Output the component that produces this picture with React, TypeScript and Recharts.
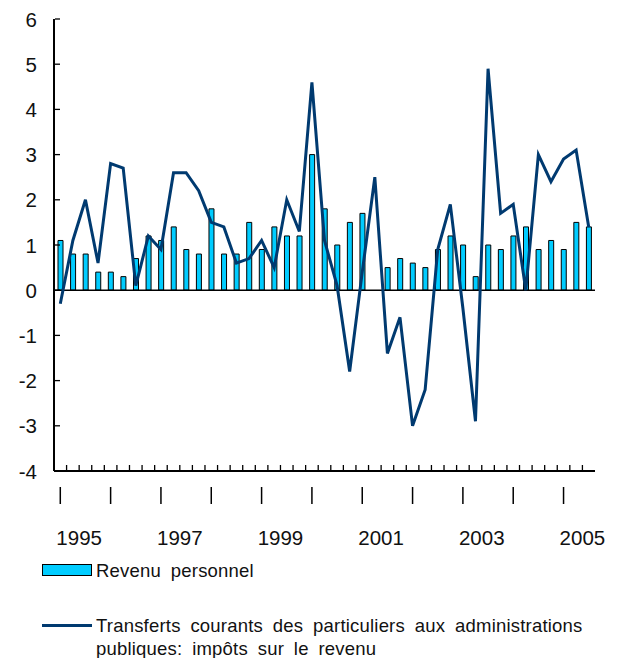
import React from "react";
import {
  ComposedChart,
  Bar,
  Line,
  XAxis,
  YAxis,
  ReferenceLine,
} from "recharts";

// trimestres 1995T1 .. 2005T3
const quarters = [
  "1995T1", "1995T2", "1995T3", "1995T4",
  "1996T1", "1996T2", "1996T3", "1996T4",
  "1997T1", "1997T2", "1997T3", "1997T4",
  "1998T1", "1998T2", "1998T3", "1998T4",
  "1999T1", "1999T2", "1999T3", "1999T4",
  "2000T1", "2000T2", "2000T3", "2000T4",
  "2001T1", "2001T2", "2001T3", "2001T4",
  "2002T1", "2002T2", "2002T3", "2002T4",
  "2003T1", "2003T2", "2003T3", "2003T4",
  "2004T1", "2004T2", "2004T3", "2004T4",
  "2005T1", "2005T2", "2005T3",
];

const revenuPersonnel = [
  1.1, 0.8, 0.8, 0.4, 0.4, 0.3, 0.7, 1.2, 1.1, 1.4, 0.9,
  0.8, 1.8, 0.8, 0.8, 1.5, 0.9, 1.4, 1.2, 1.2, 3.0, 1.8,
  1.0, 1.5, 1.7, 0.0, 0.5, 0.7, 0.6, 0.5, 0.9, 1.2, 1.0,
  0.3, 1.0, 0.9, 1.2, 1.4, 0.9, 1.1, 0.9, 1.5, 1.4,
];

const transferts = [
  -0.3, 1.1, 2.0, 0.6, 2.8, 2.7, 0.1, 1.2, 0.9, 2.6, 2.6,
  2.2, 1.5, 1.4, 0.6, 0.7, 1.1, 0.5, 2.0, 1.3, 4.6, 1.1,
  0.1, -1.8, 0.4, 2.5, -1.4, -0.6, -3.0, -2.2, 0.9, 1.9, -0.4,
  -2.9, 4.9, 1.7, 1.9, 0.0, 3.0, 2.4, 2.9, 3.1, 1.4,
];

const yTicks = [-4, -3, -2, -1, 0, 1, 2, 3, 4, 5, 6];
const yearLabels = ["1995", "1997", "1999", "2001", "2003", "2005"];

const data = quarters.map((q, i) => ({
  q,
  revenu: revenuPersonnel[i],
  transferts: transferts[i],
}));

const FONT = "'Liberation Sans', Arial, sans-serif";
const BAR_COLOR = "#00CCFF";
const LINE_COLOR = "#003A70";

const XTick = (props: any) => {
  const { x, y, payload } = props;
  const half = payload && payload.offset ? payload.offset : 0;
  const [year, q] = String(payload.value).split("T");
  const first = payload.value === quarters[0];
  const bx = x - half;
  return (
    <g>
      {!first && (
        <path d={`M${bx},${y - 1}V${y - 6}`} stroke="#000" strokeWidth={1.3} fill="none" />
      )}
      {q === "1" && (
        <path d={`M${x},${y + 16}V${y + 33}`} stroke="#000" strokeWidth={1.5} fill="none" />
      )}
      {q === "1" && yearLabels.includes(year) && (
        <text
          x={x + 3 * half}
          y={y + 66}
          textAnchor="middle"
          dominantBaseline="central"
          fontSize={20.5}
          fontFamily={FONT}
          fill="#111"
        >
          {year}
        </text>
      )}
    </g>
  );
};

const YTick = (props: any) => {
  const { x, y, payload } = props;
  return (
    <g>
      <path d={`M${x + 1},${y}H${x + 6}`} stroke="#000" strokeWidth={1.3} fill="none" />
      <text
        x={x - 17}
        y={y}
        textAnchor="end"
        dominantBaseline="central"
        fontSize={20.5}
        fontFamily={FONT}
        fill="#111"
      >
        {payload.value}
      </text>
    </g>
  );
};

const legendText: React.CSSProperties = {
  position: "absolute",
  left: 96,
  fontSize: 18.5,
  letterSpacing: "0.2px",
  wordSpacing: "4.5px",
  color: "#111",
  whiteSpace: "nowrap",
};

export default function App() {
  return (
    <div
      style={{
        position: "absolute",
        left: 0,
        top: 0,
        width: 619,
        height: 658,
        background: "#fff",
        fontFamily: FONT,
      }}
    >
      <ComposedChart
        width={619}
        height={560}
        data={data}
        margin={{ top: 19, right: 24, bottom: 0, left: 0 }}
      >
        <XAxis
          dataKey="q"
          interval={0}
          height={89}
          tickSize={0}
          tickMargin={0}
          tickLine={false}
          tick={(p: any) => <XTick {...p} />}
          axisLine={{ stroke: "#000", strokeWidth: 2 }}
        />
        <XAxis
          xAxisId="top"
          dataKey="q"
          orientation="top"
          height={0}
          tick={false}
          tickLine={false}
          axisLine={{ stroke: "#333", strokeWidth: 1 }}
        />
        <YAxis
          domain={[-4, 6]}
          ticks={yTicks}
          width={54}
          tickSize={0}
          tickMargin={0}
          tickLine={false}
          tick={(p: any) => <YTick {...p} />}
          axisLine={{ stroke: "#000", strokeWidth: 2 }}
        />
        <YAxis
          yAxisId="r"
          orientation="right"
          domain={[-4, 6]}
          width={0}
          tick={false}
          tickLine={false}
          axisLine={{ stroke: "#777", strokeWidth: 1 }}
        />
        <Bar
          dataKey="revenu"
          fill={BAR_COLOR}
          stroke="#000"
          strokeWidth={1}
          barSize={5}
          isAnimationActive={false}
        />
        <ReferenceLine y={0} stroke="#000" strokeWidth={1.5} />
        <Line
          type="linear"
          dataKey="transferts"
          stroke={LINE_COLOR}
          strokeWidth={3}
          dot={false}
          activeDot={false}
          isAnimationActive={false}
        />
      </ComposedChart>

      <div style={{ position: "absolute", left: 42, top: 564, width: 48, height: 10, background: BAR_COLOR, border: "1px solid #000" }} />
      <div style={{ ...legendText, top: 559, lineHeight: "24px" }}>
        Revenu personnel
      </div>

      <div style={{ position: "absolute", left: 42, top: 624, width: 50, height: 3, background: LINE_COLOR }} />
      <div style={{ ...legendText, top: 614, lineHeight: "23px" }}>
        Transferts courants des particuliers aux administrations
        <br />
        publiques: impôts sur le revenu
      </div>
    </div>
  );
}
